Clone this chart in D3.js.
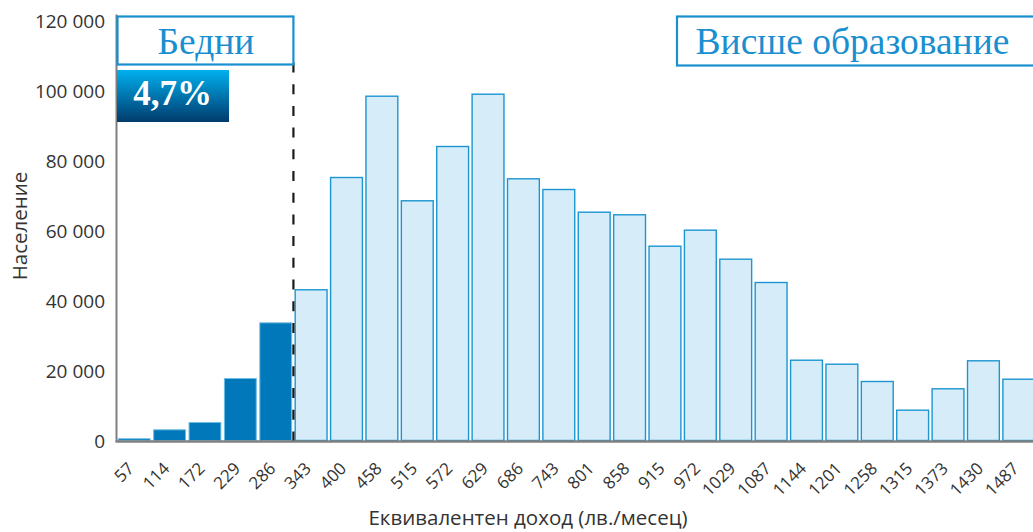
<!DOCTYPE html>
<html><head><meta charset="utf-8">
<script src="https://cdn.jsdelivr.net/npm/d3@7"></script>
<style>body{margin:0;background:#fff}svg{display:block}</style>
</head><body>
<svg id="c" width="1033" height="532"></svg>
<script>
const categories = ["57","114","172","229","286","343","400","458","515","572","629","686","743","801","858","915","972","1029","1087","1144","1201","1258","1315","1373","1430","1487"];
const population = [500,3060,5140,17710,33620,43060,75140,98370,68490,84000,98940,74770,71710,65230,64490,55510,60090,51800,45140,22940,21800,16860,8660,14770,22770,17510];
const poorCount = 5;            // first five bins are below the poverty line
const yTicks = [0,20000,40000,60000,80000,100000,120000];
const poorLabel = "Бедни";
const poorShare = "4,7%";
const groupLabel = "Висше образование";
const xTitle = "Еквивалентен доход (лв./месец)";
const yTitle = "Население";

const svg = d3.select("#c");
const mLeft = 116.5, mRight = 1036.5, mBottom = 440.5, mTop = 20.5;
const x = d3.scaleBand().domain(categories).range([mLeft, mRight]).paddingInner(0.1).paddingOuter(0.05);
const y = d3.scaleLinear().domain([0,120000]).range([mBottom, mTop]);
const sans = "'Open Sans', 'Noto Sans', sans-serif";
const serif = "'Liberation Serif', 'DejaVu Serif', serif";

// bars
svg.append("g").selectAll("rect").data(categories).join("rect")
  .attr("x", d => x(d))
  .attr("y", (d,i) => y(population[i]))
  .attr("width", x.bandwidth())
  .attr("height", (d,i) => y(0) - y(population[i]))
  .attr("fill", (d,i) => i < poorCount ? "#0078b9" : "#d6ecf9")
  .attr("stroke", (d,i) => i < poorCount ? "#6dbde4" : "#1c96d1")
  .attr("stroke-width", (d,i) => i < poorCount ? 1 : 1.4);

// axes lines
svg.append("line").attr("x1", mLeft).attr("x2", mLeft).attr("y1", mTop-6).attr("y2", mBottom+1)
  .attr("stroke", "#808080").attr("stroke-width", 2);
svg.append("line").attr("x1", mLeft-1).attr("x2", 1033).attr("y1", mBottom+1).attr("y2", mBottom+1)
  .attr("stroke", "#808080").attr("stroke-width", 2.5);

// y ticks
const fmt = v => d3.format(",")(v).replace(/,/g, " ");
svg.append("g").selectAll("text").data(yTicks).join("text")
  .attr("x", 105).attr("y", d => y(d)).attr("dy", "0.37em")
  .attr("text-anchor", "end").attr("font-family", sans).attr("font-size", 19).attr("fill", "#333")
  .text(fmt);

// x ticks
svg.append("g").selectAll("text").data(categories).join("text")
  .attr("transform", d => `translate(${x(d) + x.bandwidth()/2 + 1},${mBottom + 29}) rotate(-45)`)
  .attr("text-anchor", "end")
  .attr("font-family", sans).attr("font-size", 17).attr("fill", "#333")
  .text(d => d);

// axis titles
svg.append("text").attr("x", 528).attr("y", 525).attr("text-anchor", "middle")
  .attr("font-family", sans).attr("font-size", 20.5).attr("fill", "#333").text(xTitle);
svg.append("text").attr("transform", "translate(27,226) rotate(-90)").attr("text-anchor", "middle")
  .attr("font-family", sans).attr("font-size", 20.5).attr("fill", "#333").text(yTitle);

// dashed poverty line
const px = (x(categories[poorCount-1]) + x.bandwidth() + x(categories[poorCount])) / 2;
svg.append("line").attr("x1", px).attr("x2", px).attr("y1", 62.5).attr("y2", mBottom)
  .attr("stroke", "#1a1a1a").attr("stroke-width", 2.2).attr("stroke-dasharray", "10,11.7");

// poor label box
svg.append("rect").attr("x", mLeft+1).attr("y", 16.5).attr("width", px - mLeft - 1).attr("height", 48)
  .attr("fill", "#fff").attr("stroke", "#1a8fd0").attr("stroke-width", 2.2);
svg.append("text").attr("x", (mLeft + px)/2 + 1).attr("y", 54).attr("text-anchor", "middle")
  .attr("font-family", serif).attr("font-size", 37.5).attr("fill", "#1a8fd0").text(poorLabel);

// share box with gradient
const defs = svg.append("defs");
const g = defs.append("linearGradient").attr("id", "sg").attr("x1", 0).attr("x2", 0).attr("y1", 0).attr("y2", 1);
g.append("stop").attr("offset", "0%").attr("stop-color", "#00b0ef");
g.append("stop").attr("offset", "100%").attr("stop-color", "#003b6c");
svg.append("rect").attr("x", mLeft+0.5).attr("y", 70).attr("width", 112).attr("height", 52).attr("fill", "url(#sg)");
svg.append("text").attr("x", mLeft + 56).attr("y", 104.5).attr("text-anchor", "middle")
  .attr("font-family", serif).attr("font-weight", "bold").attr("font-size", 35).attr("fill", "#fff").text(poorShare);

// group label box
svg.append("rect").attr("x", 677).attr("y", 16.5).attr("width", 360).attr("height", 49)
  .attr("fill", "#fff").attr("stroke", "#1a8fd0").attr("stroke-width", 2.2);
svg.append("text").attr("x", 852.5).attr("y", 54).attr("text-anchor", "middle")
  .attr("font-family", serif).attr("font-size", 37.5).attr("fill", "#1a8fd0").text(groupLabel);
</script>
</body></html>
